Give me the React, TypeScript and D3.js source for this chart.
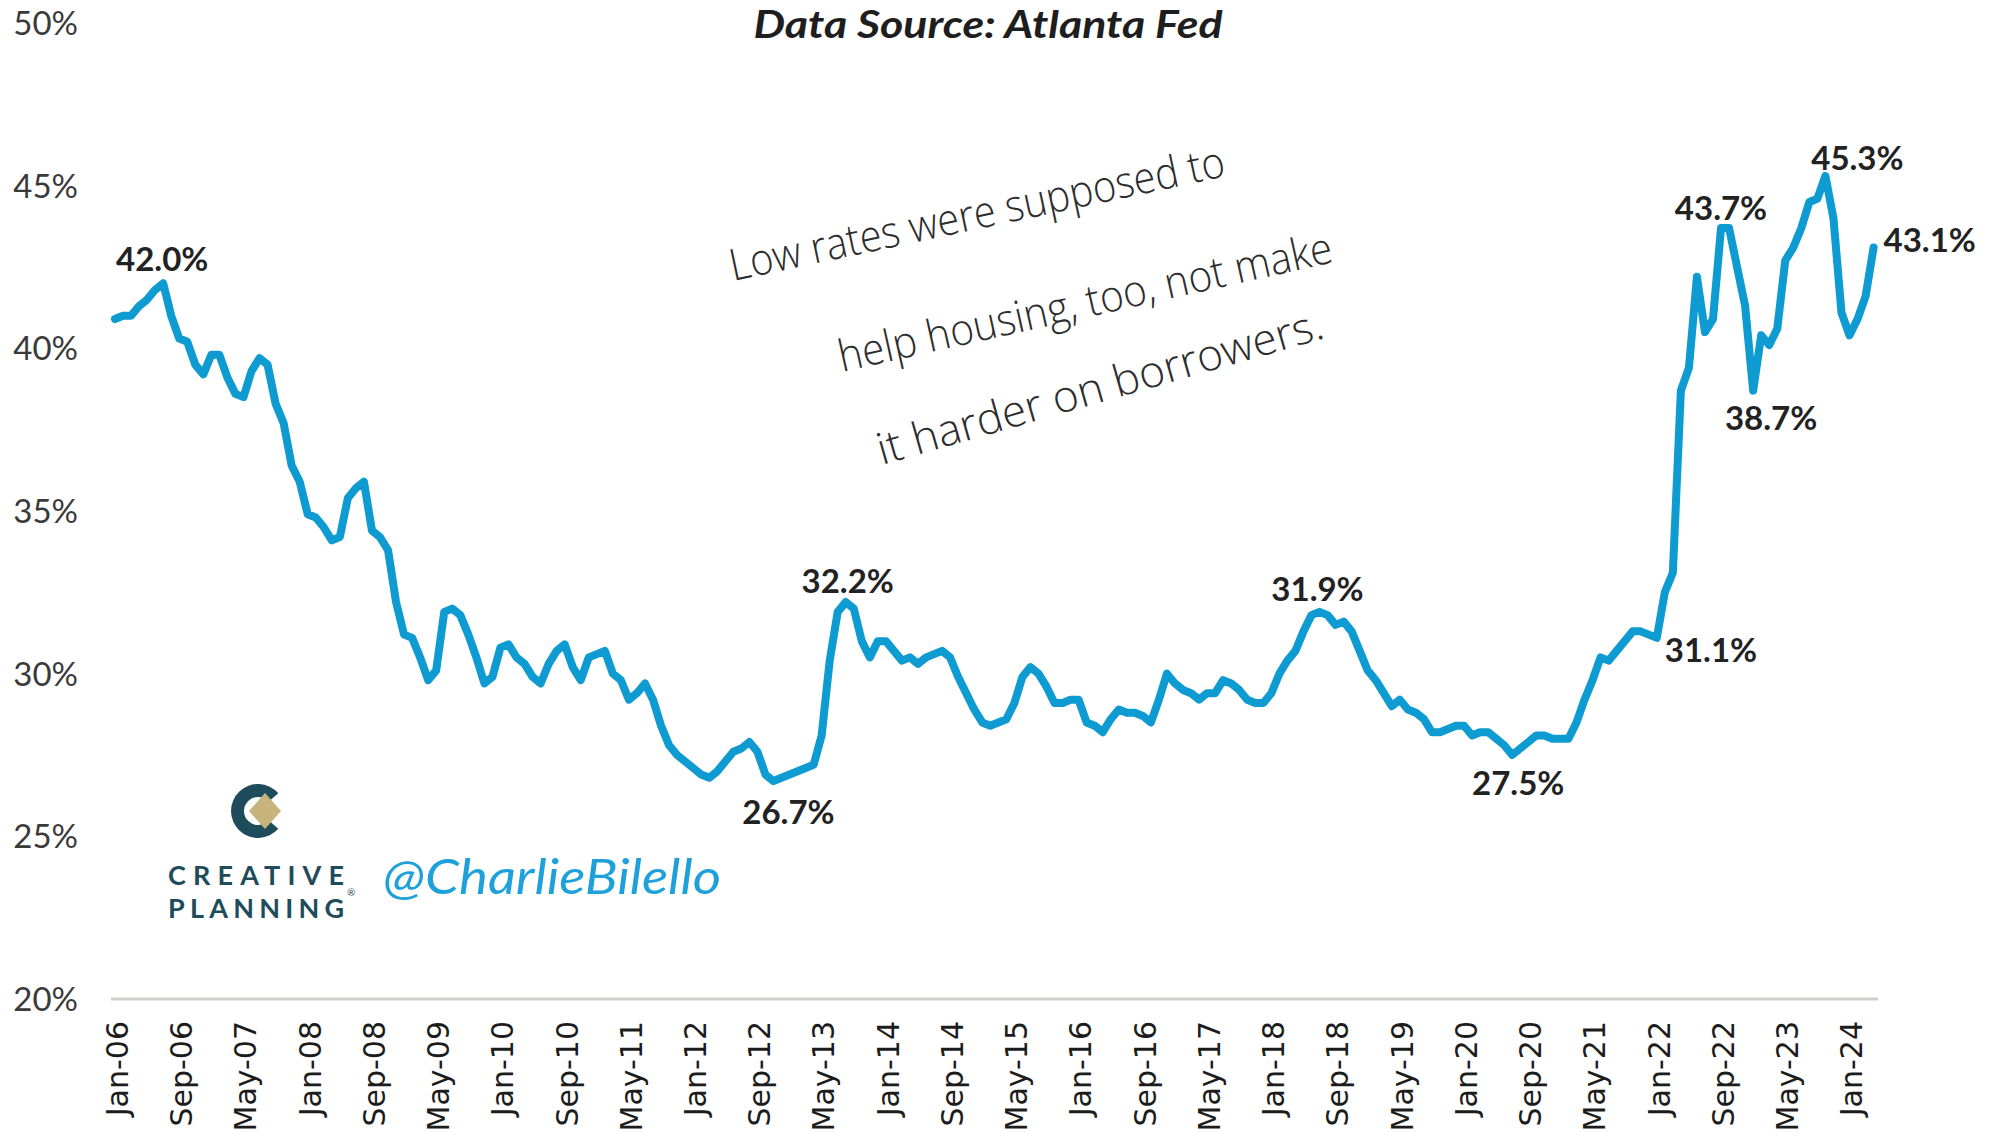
import React from "react";
import * as d3 from "d3";

// Monthly share of median income needed for the median home (Atlanta Fed), Jan-2006 .. Apr-2024
const values: number[] = [
  // 2006
  40.9, 41.0, 41.0, 41.3, 41.5, 41.8, 42.0, 41.0, 40.3, 40.2, 39.5, 39.2,
  // 2007
  39.8, 39.8, 39.1, 38.6, 38.5, 39.3, 39.7, 39.5, 38.3, 37.7, 36.4, 35.9,
  // 2008
  34.9, 34.8, 34.5, 34.1, 34.2, 35.4, 35.7, 35.9, 34.4, 34.2, 33.8, 32.2,
  // 2009
  31.2, 31.1, 30.5, 29.8, 30.1, 31.9, 32.0, 31.8, 31.2, 30.5, 29.7, 29.9,
  // 2010
  30.8, 30.9, 30.5, 30.3, 29.9, 29.7, 30.3, 30.7, 30.9, 30.2, 29.8, 30.5,
  // 2011
  30.6, 30.7, 30.0, 29.8, 29.2, 29.4, 29.7, 29.2, 28.4, 27.8, 27.5, 27.3,
  // 2012
  27.1, 26.9, 26.8, 27.0, 27.3, 27.6, 27.7, 27.9, 27.6, 26.9, 26.7, 26.8,
  // 2013
  26.9, 27.0, 27.1, 27.2, 28.1, 30.4, 31.9, 32.2, 32.0, 31.0, 30.5, 31.0,
  // 2014
  31.0, 30.7, 30.4, 30.5, 30.3, 30.5, 30.6, 30.7, 30.5, 29.9, 29.4, 28.9,
  // 2015
  28.5, 28.4, 28.5, 28.6, 29.1, 29.9, 30.2, 30.0, 29.6, 29.1, 29.1, 29.2,
  // 2016
  29.2, 28.5, 28.4, 28.2, 28.6, 28.9, 28.8, 28.8, 28.7, 28.5, 29.2, 30.0,
  // 2017
  29.7, 29.5, 29.4, 29.2, 29.4, 29.4, 29.8, 29.7, 29.5, 29.2, 29.1, 29.1,
  // 2018
  29.4, 30.0, 30.4, 30.7, 31.3, 31.8, 31.9, 31.8, 31.5, 31.6, 31.3, 30.7,
  // 2019
  30.1, 29.8, 29.4, 29.0, 29.2, 28.9, 28.8, 28.6, 28.2, 28.2, 28.3, 28.4,
  // 2020
  28.4, 28.1, 28.2, 28.2, 28.0, 27.8, 27.5, 27.7, 27.9, 28.1, 28.1, 28.0,
  // 2021
  28.0, 28.0, 28.5, 29.2, 29.8, 30.5, 30.4, 30.7, 31.0, 31.3, 31.3, 31.2,
  // 2022
  31.1, 32.5, 33.1, 38.7, 39.4, 42.2, 40.5, 40.9, 43.7, 43.7, 42.5, 41.3,
  // 2023
  38.7, 40.4, 40.1, 40.6, 42.7, 43.1, 43.7, 44.5, 44.6, 45.3, 44.0, 41.1,
  // 2024
  40.4, 40.9, 41.6, 43.1,
];

// one category label every 8 months, starting at Jan-06
const tickLabels: string[] = [
  "Jan-06", "Sep-06", "May-07", "Jan-08", "Sep-08", "May-09", "Jan-10",
  "Sep-10", "May-11", "Jan-12", "Sep-12", "May-13", "Jan-14", "Sep-14",
  "May-15", "Jan-16", "Sep-16", "May-17", "Jan-18", "Sep-18", "May-19",
  "Jan-20", "Sep-20", "May-21", "Jan-22", "Sep-22", "May-23", "Jan-24",
];
const tickStep = 8;

const yTicks: number[] = [20, 25, 30, 35, 40, 45, 50];

const calloutIndex: number[] = [6, 82, 91, 150, 174, 192, 200, 204, 213, 219];
const calloutText: string[] = [
  "42.0%", "26.7%", "32.2%", "31.9%", "27.5%", "31.1%", "43.7%", "38.7%", "45.3%", "43.1%",
];

const title = "Data Source: Atlanta Fed";
const noteLines: string[] = [
  "Low rates were supposed to",
  "help housing, too, not make",
  "it harder on borrowers.",
];
const brandLines: string[] = ["CREATIVE", "PLANNING"];
const handle = "@CharlieBilello";

export default function App() {
  const W = 2001;
  const H = 1139;

  const x = d3.scaleLinear().domain([0, values.length - 1]).range([115, 1873.6]);
  const y = d3.scaleLinear().domain([20, 50]).range([999, 23]);

  const linePath = d3
    .line<number>()
    .x((_, i) => x(i))
    .y((d) => y(d))(values) as string;

  const yFmt = (v: number) => `${v}%`;

  // label placement relative to its data point
  const place: Record<number, { dx: number; dy: number; anchor: string }> = {
    6: { dx: -1, dy: -12, anchor: "middle" },
    82: { dx: 15, dy: 43, anchor: "middle" },
    91: { dx: 2, dy: -9, anchor: "middle" },
    150: { dx: -2, dy: -11, anchor: "middle" },
    174: { dx: 6, dy: 40, anchor: "middle" },
    192: { dx: 8, dy: 24, anchor: "start" },
    200: { dx: 0, dy: -8, anchor: "middle" },
    204: { dx: 18, dy: 39, anchor: "middle" },
    213: { dx: 32, dy: -6, anchor: "middle" },
    219: { dx: 10, dy: 5, anchor: "start" },
  };

  const notePlace = [
    { x: 733, y: 281, angle: -12, len: 505 },
    { x: 842, y: 372, angle: -12.6, len: 505 },
    { x: 882, y: 465, angle: -16, len: 462 },
  ];

  const logoArc = d3.arc()({
    innerRadius: 14,
    outerRadius: 27,
    startAngle: Math.PI / 2 + 0.72,
    endAngle: Math.PI / 2 + 2 * Math.PI - 0.72,
  } as any) as string;

  return (
    <svg
      width={W}
      height={H}
      viewBox={`0 0 ${W} ${H}`}
      style={{ position: "absolute", left: 0, top: 0, display: "block", background: "#fff" }}
    >
      <rect x={0} y={0} width={W} height={H} fill="#ffffff" />

      {/* title */}
      <text
        x={988}
        y={38}
        textAnchor="middle"
        fontFamily="Lato, 'Open Sans', sans-serif"
        fontWeight={700}
        fontStyle="italic"
        fontSize={38}
        fill="#1e1e1e"
        textLength={469}
        lengthAdjust="spacingAndGlyphs"
      >
        {title}
      </text>

      {/* y labels */}
      {yTicks.map((t) => (
        <text
          key={t}
          x={78}
          y={y(t)}
          dy="0.36em"
          textAnchor="end"
          fontFamily="Lato, 'Open Sans', sans-serif"
          fontSize={33}
          fill="#3a3a3a"
        >
          {yFmt(t)}
        </text>
      ))}

      {/* category axis line */}
      <line x1={111} x2={1878} y1={y(20)} y2={y(20)} stroke="#cfcfca" strokeWidth={3} />

      {/* x labels */}
      {tickLabels.map((lab, k) => {
        const px = x(k * tickStep) + 2;
        return (
          <text
            key={lab}
            transform={`translate(${px},1021) rotate(-90)`}
            dy="0.36em"
            textAnchor="end"
            fontFamily="'DejaVu Sans', Verdana, sans-serif"
            fontSize={30}
            fill="#1c1c1c"
          >
            {lab}
          </text>
        );
      })}

      {/* data line */}
      <path
        d={linePath}
        fill="none"
        stroke="#0e9bd2"
        strokeWidth={8}
        strokeLinejoin="round"
        strokeLinecap="round"
      />

      {/* callouts */}
      {calloutIndex.map((idx, k) => {
        const p = place[idx];
        return (
          <text
            key={idx}
            x={x(idx) + p.dx}
            y={y(values[idx]) + p.dy}
            textAnchor={p.anchor as any}
            fontFamily="Lato, 'Open Sans', sans-serif"
            fontWeight={700}
            fontSize={33}
            fill="#222"
          >
            {calloutText[k]}
          </text>
        );
      })}

      {/* handwritten note */}
      {noteLines.map((t, k) => {
        const n = notePlace[k];
        return (
          <text
            key={k}
            transform={`translate(${n.x},${n.y}) rotate(${n.angle})`}
            fontFamily="'Open Sans', Lato, sans-serif"
            fontWeight={300}
            fontSize={44}
            fill="#2d2d2d"
            textLength={n.len}
            lengthAdjust="spacingAndGlyphs"
          >
            {t}
          </text>
        );
      })}

      {/* logo */}
      <g transform="translate(258,811)">
        <path d={logoArc} fill="#1f4c5b" />
        <path d="M7,-18 L23,0 L7,18 L-9,0 Z" fill="#c7b47c" />
      </g>
      {brandLines.map((t, k) => (
        <text
          key={t}
          x={168}
          y={885 + k * 33}
          fontFamily="Lato, 'Open Sans', sans-serif"
          fontWeight={700}
          fontSize={27}
          fill="#1f4c5b"
          textLength={176}
          lengthAdjust="spacing"
        >
          {t}
        </text>
      ))}
      <text x={347} y={896} fontFamily="Lato, sans-serif" fontSize={10} fill="#1f4c5b">
        ®
      </text>
      <text
        x={383}
        y={894}
        fontFamily="Lato, 'Open Sans', sans-serif"
        fontStyle="italic"
        fontSize={48}
        fill="#1ea0da"
        textLength={338}
        lengthAdjust="spacingAndGlyphs"
      >
        {handle}
      </text>
    </svg>
  );
}
